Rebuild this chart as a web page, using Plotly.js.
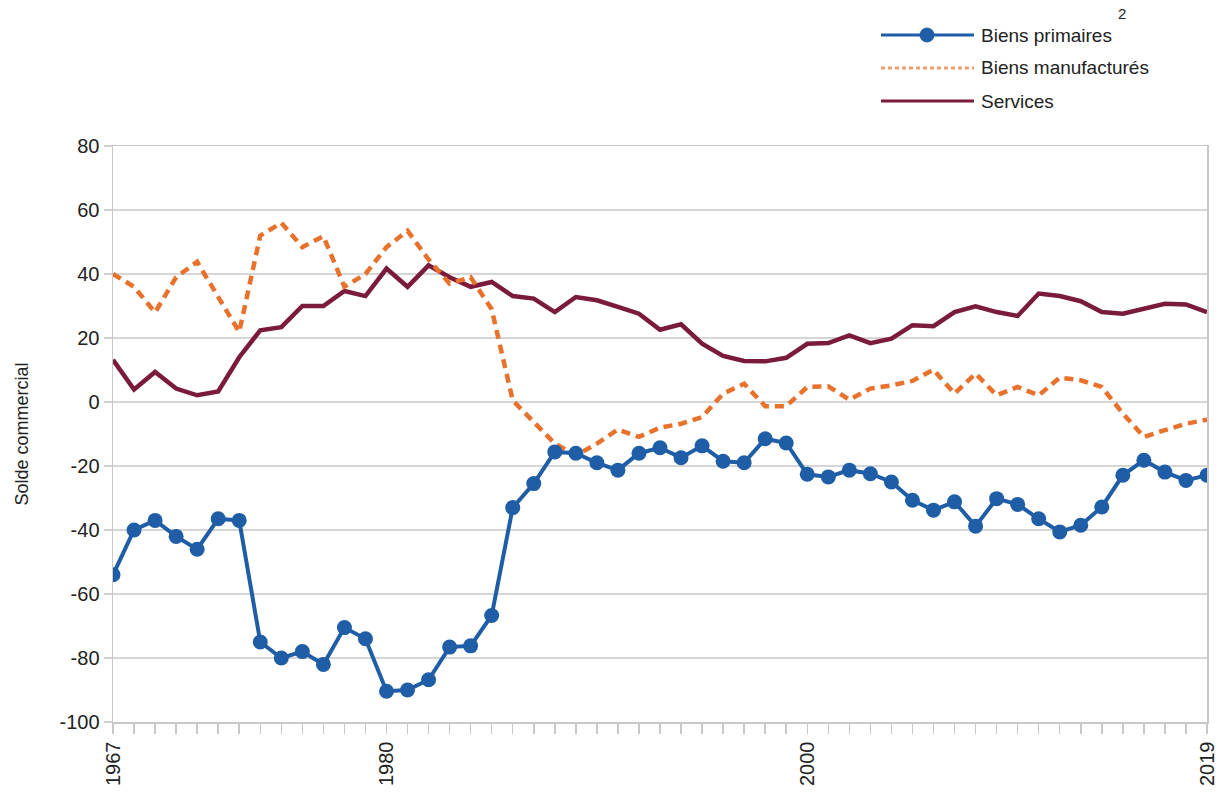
<!DOCTYPE html>
<html>
<head>
<meta charset="utf-8">
<script src="https://cdn.plot.ly/plotly-3.0.1.min.js"></script>
<style>html,body{margin:0;padding:0;background:#fff;}#chart{width:1223px;height:792px;}</style>
</head>
<body>
<div id="chart"></div>
<script>
const years = [];
for (let y = 1967; y <= 2019; y++) years.push(y);

const biensPrimaires = [
  -54, -40, -37, -42, -46, -36.5, -37, -75, -80, -78, -82, -70.5, -74,
  -90.4, -90, -86.8, -76.6, -76.2, -66.7, -33, -25.5, -15.6, -16, -19, -21.3,
  -16, -14.3, -17.4, -13.7, -18.5, -19, -11.5, -12.8, -22.6, -23.4, -21.3, -22.4,
  -25, -30.7, -33.8, -31.2, -38.8, -30.2, -32, -36.5, -40.6, -38.5, -32.8, -22.9,
  -18.2, -21.9, -24.5, -22.9
];

const biensManufactures = [
  40, 36, 28, 39, 43.8, 32.8, 21.9, 52, 56, 48.4, 51.8, 36, 40,
  48.4, 53.5, 44.5, 37, 39, 29, 0.5, -6.2, -13, -16.7, -13, -8.6,
  -10.9, -8, -6.8, -4.7, 2.6, 5.7, -1.3, -1.3, 4.7, 4.9, 0.7, 4.2,
  5.2, 6.6, 10.1, 2.6, 8.9, 2.1, 4.7, 2.1, 7.6, 6.8, 4.7, -3.6,
  -10.9, -8.8, -6.8, -5.5
];

const services = [
  13.2, 3.9, 9.4, 4.2, 2.1, 3.3, 14, 22.4, 23.4, 30, 30, 34.7, 33.1,
  41.7, 36, 42.7, 39, 36, 37.5, 33.1, 32.3, 28.1, 32.8, 31.8, 29.7,
  27.6, 22.6, 24.3, 18.2, 14.4, 12.8, 12.7, 13.8, 18.2, 18.4, 20.8, 18.4,
  19.8, 24, 23.7, 28.1, 29.9, 28.1, 26.9, 33.9, 33.1, 31.5, 28.1, 27.6,
  29.2, 30.7, 30.5, 28.1
];

const seriesNames = ["Biens primaires", "Biens manufacturés", "Services"];
const labelledYears = [1967, 1980, 2000, 2019];
const yTicks = [-100, -80, -60, -40, -20, 0, 20, 40, 60, 80];
const yTickText = yTicks.map(v => String(v));

const tickText = years.map(y => labelledYears.includes(y) ? String(y) : "");

const cBlue = "#1f5ea6", cOrange = "#e8712c", cRed = "#7a1b3b";

const traces = [
  {x: years, y: services, name: seriesNames[2], type: "scatter", mode: "lines",
   line: {color: cRed, width: 4.5}},
  {x: years, y: biensManufactures, name: seriesNames[1], type: "scatter", mode: "lines",
   line: {color: cOrange, width: 4.5, dash: "9px,6px"}},
  {x: years, y: biensPrimaires, name: seriesNames[0], type: "scatter", mode: "lines+markers",
   line: {color: cBlue, width: 4}, marker: {color: cBlue, size: 15}}
];

const W = 1094, H = 576, L = 113, T = 146;
const px = v => (v - L) / W;
const py = v => (T + H - v) / H;

const legendRows = [
  {y: 35, color: cBlue, dash: "solid", text: seriesNames[0], marker: true},
  {y: 68, color: "#f0a070", dash: "4px,3px", text: seriesNames[1], marker: false},
  {y: 101, color: cRed, dash: "solid", text: seriesNames[2], marker: false}
];

const shapes = [];
const annotations = [];
legendRows.forEach(r => {
  shapes.push({type: "line", xref: "paper", yref: "paper", x0: px(881), x1: px(974), y0: py(r.y), y1: py(r.y),
    line: {color: r.color, width: 3, dash: r.dash}});
  if (r.marker) {
    shapes.push({type: "circle", xref: "paper", yref: "paper", xsizemode: "pixel", ysizemode: "pixel",
      xanchor: px(927), yanchor: py(r.y), x0: -7, x1: 7, y0: -7, y1: 7,
      fillcolor: cBlue, line: {color: cBlue, width: 1}});
  }
  annotations.push({xref: "paper", yref: "paper", x: px(979), y: py(r.y), xanchor: "left", yanchor: "middle",
    text: r.text, showarrow: false, font: {family: "Liberation Sans, Arial, sans-serif", size: 19, color: "#222"}});
});
annotations.push({xref: "paper", yref: "paper", x: px(1122), y: py(13), xanchor: "center", yanchor: "middle",
  text: "2", showarrow: false, font: {family: "Liberation Sans, Arial, sans-serif", size: 15, color: "#222"}});

const layout = {
  width: 1223, height: 792,
  margin: {l: L, r: 1223 - L - W, t: T, b: 792 - T - H},
  paper_bgcolor: "#fff", plot_bgcolor: "#fff",
  showlegend: false,
  font: {family: "Liberation Sans, Arial, sans-serif", color: "#222"},
  xaxis: {
    range: [1967, 2019], tickmode: "array", tickvals: years, ticktext: tickText,
    tickangle: -90, ticks: "outside", ticklen: 10, tickcolor: "#c8c8c8", tickwidth: 1.5,
    showgrid: false, zeroline: false, showline: true, linecolor: "#c8c8c8", linewidth: 1.5, mirror: true,
    tickfont: {size: 20, color: "#222"}
  },
  yaxis: {
    range: [-100, 80], tickmode: "array", tickvals: yTicks, ticktext: yTickText,
    ticks: "outside", ticklen: 8, tickcolor: "#d0d0d0", tickwidth: 1.5,
    showgrid: true, gridcolor: "#d6d6d6", gridwidth: 1.5, zeroline: false,
    showline: true, linecolor: "#c8c8c8", linewidth: 1.5, mirror: true,
    tickfont: {size: 20, color: "#222"},
    title: {text: "Solde commercial", font: {size: 18, color: "#222"}, standoff: 26}
  },
  shapes: shapes,
  annotations: annotations
};

Plotly.newPlot("chart", traces, layout, {displayModeBar: false, staticPlot: true});
</script>
</body>
</html>
